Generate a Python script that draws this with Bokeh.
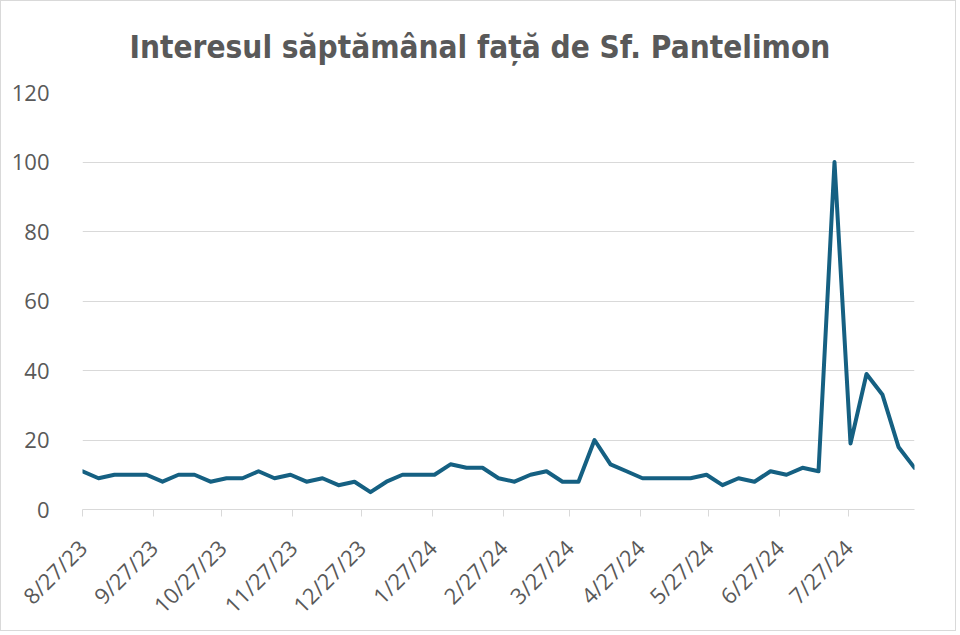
import pandas as pd
from bokeh.plotting import figure
from bokeh.models import Range1d, FixedTicker, Title, ColumnDataSource
from bokeh.embed import file_html
from bokeh.resources import INLINE

# ---- data ----
start_week = "2023-08-27"
n_weeks = 53
interest = [11, 9, 10, 10, 10, 8, 10, 10, 8, 9, 9, 11, 9, 10, 8, 9, 7, 8,
            5,
            8, 10, 10, 10, 13, 12, 12, 9, 8, 10, 11, 8, 8, 20, 13, 11,
            9, 9, 9, 9,
            10, 7, 9, 8, 11, 10, 12, 11, 100, 19, 39, 33, 18, 12]
tick_dates = ["2023-08-27", "2023-09-27", "2023-10-27", "2023-11-27", "2023-12-27",
              "2024-01-27", "2024-02-27", "2024-03-27", "2024-04-27", "2024-05-27",
              "2024-06-27", "2024-07-27"]
tick_labels = ["8/27/23", "9/27/23", "10/27/23", "11/27/23", "12/27/23",
               "1/27/24", "2/27/24", "3/27/24", "4/27/24", "5/27/24",
               "6/27/24", "7/27/24"]
y_ticks = [0, 20, 40, 60, 80, 100, 120]
title_text = "Interesul săptămânal față de Sf. Pantelimon"

weeks = pd.date_range(start_week, periods=n_weeks, freq="7D")
src = ColumnDataSource(dict(x=weeks, y=interest))

def ms(d):
    return int(pd.Timestamp(d).value // 10**6)

tick_ms = [ms(d) for d in tick_dates]

GRAY_TXT = "#595959"
GRID = "#d9d9d9"

p = figure(width=956, height=631, x_axis_type="datetime",
           output_backend="svg", toolbar_location=None,
           x_range=Range1d(weeks[0], weeks[-1]), y_range=Range1d(0, 120),
           min_border_left=81, min_border_right=43,
           min_border_top=91, min_border_bottom=122)

p.add_layout(Title(text=title_text, text_font="DejaVu Sans Condensed, Roboto",
                   text_font_size="31.3px", text_font_style="bold",
                   text_color=GRAY_TXT, align="left", offset=47,
                   vertical_align="top", standoff=52), "above")

p.line("x", "y", source=src, line_color="#156082", line_width=4,
       line_join="round", line_cap="round")

p.outline_line_color = None
p.background_fill_color = "white"
p.border_fill_color = "white"

# grid
p.xgrid.grid_line_color = None
p.ygrid.grid_line_color = GRID
p.ygrid.grid_line_width = 1

# x axis
xa = p.xaxis[0]
xa.ticker = FixedTicker(ticks=tick_ms)
xa.major_label_overrides = {t: l for t, l in zip(tick_ms, tick_labels)}
xa.major_label_orientation = 0.785398
xa.major_label_text_font = "Open Sans"
xa.major_label_text_font_size = "22px"
xa.major_label_text_color = GRAY_TXT
xa.axis_line_color = GRID
xa.major_tick_line_color = GRID
xa.major_tick_out = 7
xa.major_tick_in = 0
xa.minor_tick_line_color = None
xa.major_label_standoff = 27

# y axis
ya = p.yaxis[0]
ya.ticker = FixedTicker(ticks=y_ticks)
ya.axis_line_color = None
ya.major_tick_line_color = None
ya.minor_tick_line_color = None
ya.major_label_text_font = "Open Sans"
ya.major_label_text_font_size = "22px"
ya.major_label_text_color = GRAY_TXT
ya.major_label_standoff = 27

p.styles = {"border": "1px solid #d9d9d9"}

open("out.html", "w").write(file_html(p, INLINE))
